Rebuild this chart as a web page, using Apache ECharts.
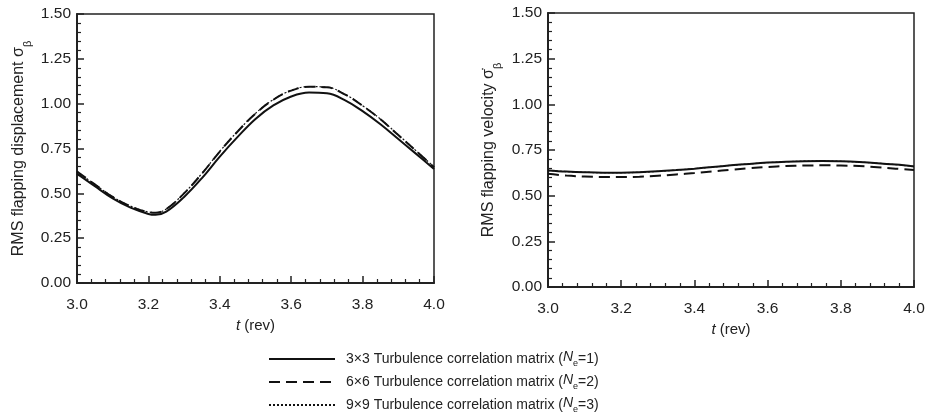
<!DOCTYPE html>
<html>
<head>
<meta charset="utf-8">
<script src="https://cdn.jsdelivr.net/npm/echarts@6/dist/echarts.min.js"></script>
<style>
html,body{margin:0;padding:0;background:#fff;}
#c{width:936px;height:417px;}
</style>
</head>
<body>
<div id="c"></div>
<script>
// ---- data ----
const tLeft = [3.00,3.05,3.10,3.15,3.20,3.22,3.25,3.30,3.35,3.40,3.45,3.50,3.55,3.60,3.65,3.70,3.75,3.80,3.85,3.90,3.95,4.00];
const disp3x3 = [0.610,0.540,0.472,0.420,0.385,0.380,0.398,0.480,0.585,0.705,0.815,0.915,0.990,1.040,1.062,1.058,1.020,0.958,0.885,0.803,0.720,0.636];
const disp6x6 = [0.622,0.550,0.480,0.428,0.395,0.392,0.412,0.500,0.610,0.733,0.845,0.945,1.022,1.073,1.094,1.091,1.052,0.988,0.913,0.825,0.736,0.646];
const disp9x9 = [0.622,0.550,0.481,0.429,0.396,0.393,0.413,0.501,0.611,0.734,0.846,0.946,1.023,1.074,1.095,1.092,1.053,0.989,0.914,0.826,0.737,0.647];

const tRight = [3.00,3.05,3.10,3.15,3.20,3.25,3.30,3.35,3.40,3.45,3.50,3.55,3.60,3.65,3.70,3.75,3.80,3.85,3.90,3.95,4.00];
const vel3x3 = [0.638,0.632,0.628,0.626,0.626,0.628,0.633,0.640,0.648,0.657,0.666,0.674,0.681,0.686,0.689,0.690,0.688,0.684,0.678,0.670,0.660];
const vel6x6 = [0.620,0.610,0.605,0.602,0.602,0.604,0.609,0.616,0.624,0.633,0.642,0.650,0.657,0.662,0.665,0.666,0.665,0.662,0.656,0.648,0.640];
const vel9x9 = [0.638,0.632,0.628,0.626,0.626,0.628,0.633,0.640,0.648,0.657,0.666,0.674,0.681,0.686,0.689,0.690,0.688,0.684,0.678,0.670,0.660];

const seriesNames = ['3\u00d73 Turbulence correlation matrix', '6\u00d76 Turbulence correlation matrix', '9\u00d79 Turbulence correlation matrix'];
const nValues = ['1','2','3'];
const xTickLabels = ['3.0','3.2','3.4','3.6','3.8','4.0'];
const yTickLabels = ['0.00','0.25','0.50','0.75','1.00','1.25','1.50'];

// ---- chart ----
const FONT = 'Liberation Sans, Arial, Helvetica, sans-serif';
const TXT = '#222';
const zip = (xs, ys) => xs.map((x, i) => [x, ys[i]]);

function xAxisCfg(gi) {
  return {
    gridIndex: gi, type: 'value', min: 3, max: 4, interval: 0.2,
    name: '{i|t} (rev)', nameLocation: 'middle', nameGap: 31,
    nameTextStyle: { fontFamily: FONT, fontSize: 15, color: TXT,
      rich: { i: { fontFamily: FONT, fontSize: 15, fontStyle: 'italic', color: TXT } } },
    axisLine: { show: true, lineStyle: { color: '#222', width: 2 } },
    axisTick: { show: true, inside: true, length: 7, lineStyle: { color: '#222', width: 1.5 } },
    minorTick: { show: true, splitNumber: 5, length: 4, lineStyle: { color: '#222', width: 1.2 } },
    splitLine: { show: false },
    axisLabel: { margin: 14, fontFamily: FONT, fontSize: 15.5, color: TXT,
      formatter: v => xTickLabels[Math.round((v - 3) / 0.2)] }
  };
}
function yAxisCfg(gi, name, gap) {
  return {
    gridIndex: gi, type: 'value', min: 0, max: 1.5, interval: 0.25,
    name: name, nameLocation: 'middle', nameGap: gap,
    nameTextStyle: { fontFamily: FONT, fontSize: 16, color: TXT,
      rich: {
        a: { fontFamily: FONT, fontSize: 16, color: TXT, lineHeight: 22, verticalAlign: 'top' },
        b: { fontFamily: FONT, fontSize: 11, color: TXT, lineHeight: 22, verticalAlign: 'bottom' }
      } },
    axisLine: { show: true, lineStyle: { color: '#222', width: 2 } },
    axisTick: { show: true, inside: true, length: 7, lineStyle: { color: '#222', width: 1.5 } },
    minorTick: { show: true, splitNumber: 5, length: 4, lineStyle: { color: '#222', width: 1.2 } },
    splitLine: { show: false },
    axisLabel: { margin: 6, fontFamily: FONT, fontSize: 15.5, color: TXT,
      formatter: v => yTickLabels[Math.round(v / 0.25)] }
  };
}
const styles = [
  { type: 'solid', width: 2 },
  { type: [11, 6], width: 2 },
  { type: [2, 2], width: 1.2 }
];
function mk(name, idx, gi, data) {
  return {
    name: name, type: 'line', xAxisIndex: gi, yAxisIndex: gi,
    data: data, smooth: 0.4, symbol: 'none', silent: true,
    z: idx === 0 ? 3 : 2,
    lineStyle: Object.assign({ color: '#111' }, styles[idx]),
    itemStyle: { color: '#111' }
  };
}

const chart = echarts.init(document.getElementById('c'), null, { renderer: 'canvas' });
chart.setOption({
  animation: false,
  backgroundColor: '#fff',
  grid: [
    { left: 77, top: 14, width: 357, height: 269, show: true, borderColor: '#222', borderWidth: 1.5, backgroundColor: 'transparent' },
    { left: 548, top: 13, width: 366, height: 274, show: true, borderColor: '#222', borderWidth: 1.5, backgroundColor: 'transparent' }
  ],
  xAxis: [xAxisCfg(0), xAxisCfg(1)],
  yAxis: [
    yAxisCfg(0, '{a|RMS flapping displacement \u03c3}{b|\u03b2}', 44),
    yAxisCfg(1, '{a|RMS flapping velocity \u03c3\u0307}{b|\u03b2}', 45)
  ],
  legend: {
    orient: 'vertical', left: 263, top: 345, height: 72, itemWidth: 66, itemHeight: 12, itemGap: 5,
    selectedMode: false,
    data: seriesNames,
    itemStyle: { color: 'rgba(0,0,0,0)', borderWidth: 0, opacity: 0 },
    formatter: function (n) {
      const k = seriesNames.indexOf(n);
      return n + ' ({i|N}{s|e}=' + nValues[k] + ')';
    },
    textStyle: { fontFamily: FONT, fontSize: 14, color: TXT, padding: [0, 0, 0, 6],
      rich: {
        i: { fontFamily: FONT, fontSize: 14, fontStyle: 'italic', color: TXT, lineHeight: 18, verticalAlign: 'top' },
        s: { fontFamily: FONT, fontSize: 9, color: TXT, lineHeight: 18, verticalAlign: 'bottom' }
      } }
  },
  series: [
    mk(seriesNames[0], 0, 0, zip(tLeft, disp3x3)),
    mk(seriesNames[1], 1, 0, zip(tLeft, disp6x6)),
    mk(seriesNames[2], 2, 0, zip(tLeft, disp9x9)),
    mk(seriesNames[0], 0, 1, zip(tRight, vel3x3)),
    mk(seriesNames[1], 1, 1, zip(tRight, vel6x6)),
    mk(seriesNames[2], 2, 1, zip(tRight, vel9x9))
  ]
});
</script>
</body>
</html>
